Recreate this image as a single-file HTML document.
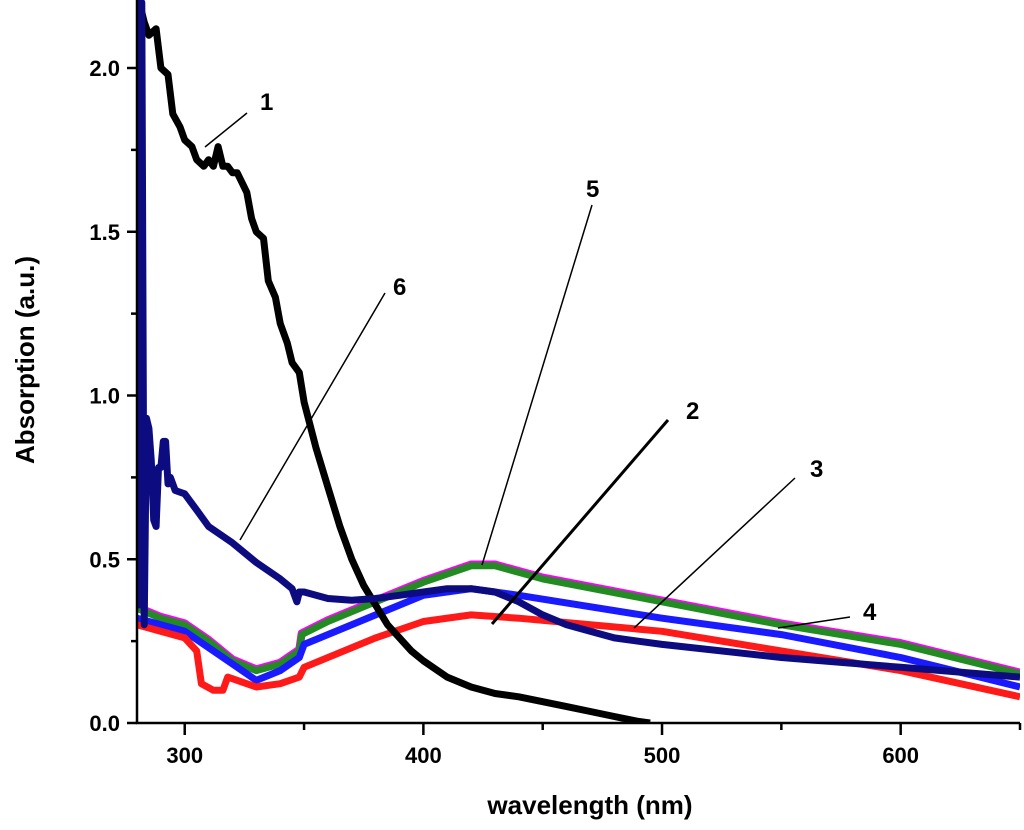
<!DOCTYPE html>
<html><head><meta charset="utf-8"><style>
body{margin:0;background:#fff;}
svg{position:absolute;left:0;top:0}
svg text{font-family:"Liberation Sans",Arial,sans-serif;font-weight:bold;}
</style></head><body>
<svg id="chart" width="1024" height="830">
<g id="plot"></g>
<g id="axes"></g>
</svg>
<script>
const xTicks=[300,400,500,600];
const xMinor=[350,450,550,650];
const yTicks=[0.0,0.5,1.0,1.5,2.0];
const yMinor=[0.25,0.75,1.25,1.75];
const s1W=[281,283,285,288,290,293,295,298,300,303,305,308,310,312,314,316,318,320,322,324,326,328,330,333,335,338,340,343,345,348,350,355,360,365,370,375,380,385,390,395,400,410,420,430,440,450,460,470,480,490,495];
const s1A=[2.2,2.14,2.1,2.12,2.0,1.98,1.86,1.82,1.78,1.76,1.72,1.7,1.72,1.7,1.76,1.7,1.7,1.68,1.68,1.65,1.62,1.54,1.5,1.48,1.35,1.3,1.22,1.16,1.1,1.07,0.98,0.84,0.72,0.6,0.5,0.42,0.36,0.3,0.26,0.22,0.19,0.14,0.11,0.09,0.08,0.065,0.05,0.035,0.02,0.005,0];
const s6W=[281,281.5,282,283,284,285,286,287,288,289,290,291,292,293,294,296,300,305,310,320,330,340,345,347,348,350,360,370,380,390,400,410,420,430,440,450,460,480,500,550,600,650];
const s6A=[0.35,2.2,2.2,0.3,0.93,0.9,0.8,0.62,0.6,0.78,0.78,0.86,0.86,0.73,0.75,0.71,0.7,0.65,0.6,0.55,0.49,0.44,0.41,0.37,0.4,0.4,0.38,0.375,0.38,0.39,0.4,0.41,0.41,0.4,0.37,0.33,0.3,0.26,0.24,0.2,0.17,0.14];
const s5W=[280,290,300,310,320,330,340,348,349,360,380,400,420,430,450,500,550,600,650];
const s5A=[0.35,0.32,0.3,0.25,0.19,0.16,0.18,0.22,0.27,0.31,0.37,0.43,0.48,0.48,0.44,0.37,0.3,0.24,0.15];
const s3W=[280,300,320,330,340,348,350,380,400,420,440,500,550,600,650];
const s3A=[0.32,0.28,0.18,0.13,0.16,0.2,0.24,0.33,0.39,0.41,0.39,0.32,0.27,0.2,0.11];
const s2W=[280,300,305,307,312,316,318,330,340,348,350,380,400,420,440,500,550,600,650];
const s2A=[0.3,0.26,0.22,0.12,0.1,0.1,0.14,0.11,0.12,0.14,0.17,0.26,0.31,0.33,0.32,0.28,0.22,0.16,0.08];
const X0=137,X1=1020,Y0=723,YT=68;
function xs(w){return X0+(w-280)/(650-280)*(X1-X0);}
function ys(a){return Y0-a/2.0*(Y0-YT);}
const NS="http://www.w3.org/2000/svg";
const plot=document.getElementById('plot'),axes=document.getElementById('axes');
function mk(tag,attrs,parent){const e=document.createElementNS(NS,tag);for(const k in attrs)e.setAttribute(k,attrs[k]);parent.appendChild(e);return e;}
function series(W,A,color,name,width){
  const d=W.map((w,i)=>(i?'L':'M')+xs(w).toFixed(1)+','+Math.max(0,ys(A[i])).toFixed(1)).join('');
  const p=mk('path',{d:d,fill:'none',stroke:color,'stroke-width':width,'stroke-linejoin':'round'},plot);
  
  
}
const clip=mk('clipPath',{id:'cp'},document.getElementById('chart'));
mk('rect',{x:X0,y:0,width:X1-X0,height:Y0},clip);
plot.setAttribute('clip-path','url(#cp)');
series(s5W,s5A.map(v=>v+0.004),'#ff00ff','series-4-magenta',8);
series(s5W,s5A,'#228b22','series-5-green',7);
series(s3W,s3A,'#1a1aff','series-3-blue',7);
series(s2W,s2A,'#ff1a1a','series-2-red',7);
series(s1W,s1A,'#000','series-1-black',7);
series(s6W,s6A,'#0c0c80','series-6-navy',7);
const ax=mk('path',{d:`M${X0},0V${Y0}H${X1}`,fill:'none',stroke:'#000','stroke-width':2.5},axes);


xTicks.forEach(v=>{
  const t=mk('line',{x1:xs(v),x2:xs(v),y1:Y0,y2:Y0+12,stroke:'#000','stroke-width':2.5},axes);
  
  
  const l=mk('text',{x:xs(v),y:Y0+40,'text-anchor':'middle','font-size':22},axes);
  l.textContent=v;
  
  
});
xMinor.forEach(v=>{
  const t=mk('line',{x1:xs(v),x2:xs(v),y1:Y0,y2:Y0+7,stroke:'#000','stroke-width':2.5},axes);
  
  
});
yTicks.forEach(v=>{
  const t=mk('line',{x1:X0-10,x2:X0,y1:ys(v),y2:ys(v),stroke:'#000','stroke-width':2.5},axes);
  
  
  const l=mk('text',{x:X0-17,y:ys(v)+8,'text-anchor':'end','font-size':22},axes);
  l.textContent=v.toFixed(1);
  
  
});
yMinor.forEach(v=>{
  const t=mk('line',{x1:X0-6,x2:X0,y1:ys(v),y2:ys(v),stroke:'#000','stroke-width':2.5},axes);
  
  
});
</script>
<svg width="1024" height="830">
<text x="590" y="814" text-anchor="middle" font-size="26">wavelength (nm)</text>
<text transform="translate(34,360) rotate(-90)" text-anchor="middle" font-size="26">Absorption (a.u.)</text>
<g stroke="#000">
<line x1="247" y1="113" x2="205" y2="147" stroke-width="1.5"/>
<line x1="592" y1="205" x2="482" y2="565" stroke-width="1.5"/>
<line x1="385" y1="293" x2="240" y2="540" stroke-width="1.5"/>
<line x1="668" y1="420" x2="492" y2="624" stroke-width="3"/>
<line x1="795" y1="478" x2="634" y2="628" stroke-width="1.5"/>
<line x1="850" y1="617" x2="778" y2="628" stroke-width="1.5"/>
</g>
<g font-size="24">
<text x="260" y="110">1</text>
<text x="586" y="197">5</text>
<text x="393" y="295">6</text>
<text x="686" y="419">2</text>
<text x="810" y="477">3</text>
<text x="863" y="620">4</text>
</g>
</svg>
</body></html>
